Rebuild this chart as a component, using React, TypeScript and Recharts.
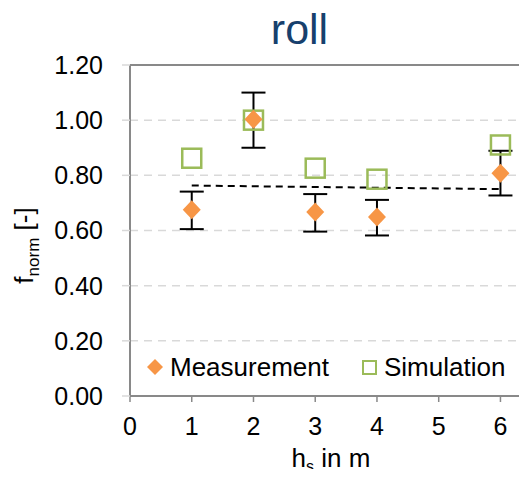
import {
  ComposedChart,
  Scatter,
  XAxis,
  YAxis,
  CartesianGrid,
  ErrorBar,
  ReferenceLine,
  Legend,
  Label,
} from "recharts";

// values
const heights = [1, 2, 3, 4, 6];
const measured = [0.675, 1.003, 0.667, 0.649, 0.808];
const measuredLow = [0.605, 0.9, 0.596, 0.582, 0.727];
const measuredHigh = [0.741, 1.1, 0.732, 0.711, 0.889];
const simulated = [0.862, 1.0, 0.826, 0.786, 0.91];
const trendX = [1, 6];
const trendY = [0.763, 0.75];
const xTicks = [0, 1, 2, 3, 4, 5, 6];
const yTicks = [0, 0.2, 0.4, 0.6, 0.8, 1.0, 1.2];

const ORANGE = "#F79646";
const GREEN = "#9BBB59";
const AXIS = "#898989";
const GRID = "#D9D9D9";

const measData = heights.map((x, i) => ({
  x,
  y: measured[i],
  err: [measured[i] - measuredLow[i], measuredHigh[i] - measured[i]],
}));
const simData = heights.map((x, i) => ({ x, y: simulated[i] }));
const trendData = trendX.map((x, i) => ({ x, y: trendY[i] }));

const Diamond = ({ cx, cy }: any) => (
  <polygon
    points={`${cx},${cy - 9.5} ${cx + 9},${cy} ${cx},${cy + 9.5} ${cx - 9},${cy}`}
    fill={ORANGE}
  />
);

const Square = ({ cx, cy }: any) => (
  <rect
    x={cx - 9.5}
    y={cy - 9.5}
    width={19}
    height={19}
    fill="none"
    stroke={GREEN}
    strokeWidth={2.5}
  />
);

const XTitle = ({ viewBox }: any) => {
  return (
    <text x={331} y={viewBox.y + 71} textAnchor="middle" fontSize={26} fill="#000">
      h
      <tspan dy={5} fontSize={16}>s</tspan>
      <tspan dy={-5}> in m</tspan>
    </text>
  );
};

const YTitle = ({ viewBox }: any) => {
  const x = 33;
  const y = viewBox.y + viewBox.height / 2 + 15;
  return (
    <text
      x={x}
      y={y}
      transform={`rotate(-90 ${x} ${y})`}
      textAnchor="middle"
      fontSize={26}
      fill="#000"
    >
      f
      <tspan dy={6} fontSize={17}>norm</tspan>
      <tspan dy={-6}> [-]</tspan>
    </text>
  );
};

const renderLegend = (props: any) => {
  const items = [...(props.payload || [])].sort((a: any, b: any) =>
    String(a.value).localeCompare(String(b.value))
  );
  return (
    <div style={{ display: "inline-flex", alignItems: "center", fontSize: 26, lineHeight: "26px", color: "#000", whiteSpace: "nowrap" }}>
      {items.map((entry: any, i: number) => (
        <div
          key={entry.value}
          style={{ display: "flex", alignItems: "center", marginRight: i < items.length - 1 ? 33 : 0 }}
        >
          {entry.value === "Measurement" ? (
            <svg width={16} height={16} style={{ marginRight: 7 }}>
              <polygon points="8,0 16,8 8,16 0,8" fill={ORANGE} />
            </svg>
          ) : (
            <svg width={15} height={15} style={{ marginRight: 7 }}>
              <rect x={1} y={1} width={13} height={13} fill="none" stroke={GREEN} strokeWidth={2} />
            </svg>
          )}
          <span>{entry.value}</span>
        </div>
      ))}
    </div>
  );
};

export default function App() {
  return (
    <div
      style={{
        position: "relative",
        width: 527,
        height: 477,
        margin: -8,
        overflow: "hidden",
        background: "#fff",
        fontFamily: "'Liberation Sans', Arial, sans-serif",
      }}
    >
      <div
        style={{
          position: "absolute",
          left: 0,
          top: 8,
          width: 599,
          textAlign: "center",
          fontSize: 43,
          lineHeight: "43px",
          color: "#17406D",
          zIndex: 2,
        }}
      >
        roll
      </div>
      <ComposedChart
        width={527}
        height={477}
        margin={{ top: 65, right: 0, bottom: 0, left: 0 }}
      >
        <CartesianGrid vertical={false} stroke={GRID} strokeDasharray="8 6" strokeWidth={1.5} />
        <XAxis
          type="number"
          dataKey="x"
          domain={[0, 6.43]}
          ticks={xTicks}
          allowDataOverflow
          height={81}
          tickSize={6}
          tickMargin={15}
          axisLine={{ stroke: AXIS, strokeWidth: 2 }}
          tickLine={{ stroke: AXIS, strokeWidth: 1.5 }}
          tick={{ fontSize: 25, fill: "#000" }}
        >
          <Label content={<XTitle />} />
        </XAxis>
        <YAxis
          type="number"
          dataKey="y"
          domain={[0, 1.2]}
          ticks={yTicks}
          allowDataOverflow
          width={130}
          tickSize={8}
          tickMargin={19}
          tickFormatter={(v: number) => v.toFixed(2)}
          axisLine={{ stroke: AXIS, strokeWidth: 2 }}
          tickLine={{ stroke: GRID, strokeWidth: 1.5 }}
          tick={{ fontSize: 25, fill: "#000" }}
        >
          <Label content={<YTitle />} />
        </YAxis>
        <ReferenceLine y={1.2} stroke={AXIS} strokeWidth={2} />
        <Legend
          layout="vertical"
          align="center"
          verticalAlign="middle"
          content={renderLegend}
          wrapperStyle={{ left: 147, top: 354, width: 365, height: 28 }}
        />
        <Scatter
          name="trend"
          data={trendData}
          line={{ stroke: "#000", strokeWidth: 2, strokeDasharray: "7 5" }}
          shape={() => <g />}
          legendType="none"
          isAnimationActive={false}
        />
        <Scatter
          name="Simulation"
          data={simData}
          shape={<Square />}
          fill={GREEN}
          isAnimationActive={false}
        />
        <Scatter
          name="Measurement"
          data={measData}
          shape={<Diamond />}
          fill={ORANGE}
          isAnimationActive={false}
        >
          <ErrorBar dataKey="err" direction="y" width={12} stroke="#000" strokeWidth={2} />
        </Scatter>
      </ComposedChart>
    </div>
  );
}
